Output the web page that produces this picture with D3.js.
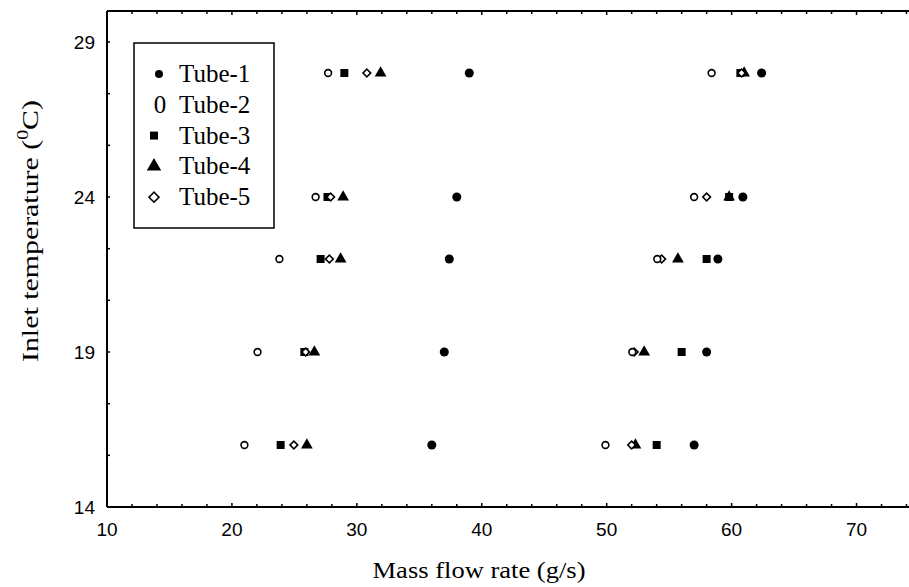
<!DOCTYPE html>
<html>
<head>
<meta charset="utf-8">
<script src="https://cdn.jsdelivr.net/npm/d3@7"></script>
<style>
  body { margin: 0; background: #fff; }
  .tick-label { font-family: "Liberation Sans", Arial, sans-serif; font-size: 19px; fill: #000; }
  .title { font-family: "Liberation Serif", "Times New Roman", serif; font-size: 24px; fill: #000; }
  .legend-text { font-family: "Liberation Serif", "Times New Roman", serif; font-size: 25px; fill: #000; }
</style>
</head>
<body>
<div id="chart"></div>
<script>
// inlet temperature levels (deg C)
const temps = [16, 19, 22, 24, 28];

// mass flow rates (g/s), low and high flow groups, one value per temperature
const tube1Low = [36.0, 37.0, 37.4, 38.0, 39.0];
const tube1High = [57.0, 58.0, 58.9, 60.9, 62.4];
const tube2Low = [21.0, 22.05, 23.8, 26.7, 27.7];
const tube2High = [49.9, 52.05, 54.05, 57.0, 58.4];
const tube3Low = [23.9, 25.8, 27.1, 27.65, 29.0];
const tube3High = [54.0, 56.0, 58.0, 59.8, 60.7];
const tube4Low = [26.0, 26.6, 28.7, 28.9, 31.9];
const tube4High = [52.3, 53.0, 55.7, 59.8, 61.0];
const tube5Low = [24.96, 25.9, 27.8, 27.9, 30.8];
const tube5High = [52.0, 52.2, 54.4, 58.0, 60.8];

const tubeNames = ["Tube-1", "Tube-2", "Tube-3", "Tube-4", "Tube-5"];
const xTicks = [10, 20, 30, 40, 50, 60, 70];
const yTicks = [14, 19, 24, 29];

const W = 909, H = 587;
const margin = {top: 11, right: 0, bottom: 80, left: 107};
const width = W - margin.left - margin.right;
const height = H - margin.top - margin.bottom;

const x = d3.scaleLinear().domain([10, 74.2]).range([0, width]);
const y = d3.scaleLinear().domain([14, 30]).range([height, 0]);

const svg = d3.select("#chart").append("svg")
    .attr("width", W)
    .attr("height", H);
const g = svg.append("g")
    .attr("transform", "translate(" + margin.left + "," + margin.top + ")");

// frame: left, bottom, top
g.append("line").attr("x1", 0).attr("x2", 0).attr("y1", 0).attr("y2", height)
    .attr("stroke", "#000").attr("stroke-width", 2);
g.append("line").attr("x1", 0).attr("x2", width).attr("y1", height).attr("y2", height)
    .attr("stroke", "#000").attr("stroke-width", 2);
g.append("line").attr("x1", 0).attr("x2", width).attr("y1", 0).attr("y2", 0)
    .attr("stroke", "#000").attr("stroke-width", 2);

// ticks pointing inward
const xMinor = d3.range(12, 75, 2);
g.selectAll(".xtick-b").data(xMinor).enter().append("line")
    .attr("x1", d => x(d)).attr("x2", d => x(d))
    .attr("y1", height).attr("y2", d => height - (d % 10 === 0 ? 4 : 3))
    .attr("stroke", "#000").attr("stroke-width", 1.5);
g.selectAll(".xtick-t").data(xMinor).enter().append("line")
    .attr("x1", d => x(d)).attr("x2", d => x(d))
    .attr("y1", 0).attr("y2", d => (d % 10 === 0 ? 4 : 3))
    .attr("stroke", "#000").attr("stroke-width", 1.5);
const yMinor = d3.range(1, 10).map(i => 14 + i * 5 / 3);
g.selectAll(".ytick").data(yMinor).enter().append("line")
    .attr("x1", 0).attr("x2", 3)
    .attr("y1", d => y(d)).attr("y2", d => y(d))
    .attr("stroke", "#000").attr("stroke-width", 1.5);

// tick labels
g.selectAll(".xlab").data(xTicks).enter().append("text")
    .attr("class", "tick-label")
    .attr("x", d => x(d)).attr("y", height + 29)
    .attr("text-anchor", "middle")
    .text(d => d);
g.selectAll(".ylab").data(yTicks).enter().append("text")
    .attr("class", "tick-label")
    .attr("x", -12).attr("y", d => y(d) + 7)
    .attr("text-anchor", "end")
    .text(d => d);

// axis titles
svg.append("text").attr("class", "title")
    .attr("x", 479).attr("y", 578)
    .attr("text-anchor", "middle")
    .attr("textLength", 213)
    .attr("lengthAdjust", "spacingAndGlyphs")
    .text("Mass flow rate (g/s)");
const yt = svg.append("text").attr("class", "title")
    .attr("transform", "translate(38,231) rotate(-90)")
    .attr("text-anchor", "middle")
    .attr("textLength", 262)
    .attr("lengthAdjust", "spacingAndGlyphs");
yt.append("tspan").text("Inlet temperature (");
yt.append("tspan").attr("font-size", 16).attr("dy", -10).text("0");
yt.append("tspan").attr("dy", 10).text("C)");

// marker styles
const sym = {
  circle: d3.symbol().type(d3.symbolCircle).size(64)(),
  open: d3.symbol().type(d3.symbolCircle).size(36)(),
  square: d3.symbol().type(d3.symbolSquare).size(64)(),
  triangle: d3.symbol().type(d3.symbolTriangle).size(60)(),
  diamond: d3.symbol().type(d3.symbolSquare).size(30)()
};
const styles = [
  {path: sym.circle, fill: "#000", stroke: "none", rot: 0},
  {path: sym.open, fill: "#fff", stroke: "#000", rot: 0},
  {path: sym.square, fill: "#000", stroke: "none", rot: 0},
  {path: sym.triangle, fill: "#000", stroke: "none", rot: 0},
  {path: sym.diamond, fill: "#fff", stroke: "#000", rot: 45}
];

const series = [
  tube1Low.concat(tube1High),
  tube2Low.concat(tube2High),
  tube3Low.concat(tube3High),
  tube4Low.concat(tube4High),
  tube5Low.concat(tube5High)
];
const tempsAll = temps.concat(temps);

// draw order so overlaps look like the original
const drawOrder = [3, 2, 4, 1, 0];
drawOrder.forEach(i => {
  const s = styles[i];
  g.append("g").selectAll("path")
    .data(series[i].map((v, j) => ({x: v, y: tempsAll[j]})))
    .enter().append("path")
    .attr("d", s.path)
    .attr("transform", d => "translate(" + x(d.x) + "," + y(d.y) + ") rotate(" + s.rot + ")")
    .attr("fill", s.fill)
    .attr("stroke", s.stroke)
    .attr("stroke-width", 1.6);
});

// legend
const lg = svg.append("g");
lg.append("rect")
    .attr("x", 134).attr("y", 43).attr("width", 140).attr("height", 185)
    .attr("fill", "#fff").attr("stroke", "#000").attr("stroke-width", 1.5);
tubeNames.forEach((name, i) => {
  const cy = 74 + i * 30.8;
  const sx = i === 0 ? 159 : 154;
  if (i === 1) {
    lg.append("text").attr("class", "legend-text")
      .attr("x", 160).attr("y", cy + 8).attr("text-anchor", "middle")
      .text("0");
  } else {
    const s = styles[i];
    lg.append("path")
      .attr("d", i === 0 ? d3.symbol().type(d3.symbolCircle).size(50)() :
                 i === 2 ? d3.symbol().type(d3.symbolSquare).size(64)() :
                 i === 3 ? d3.symbol().type(d3.symbolTriangle).size(90)() :
                 d3.symbol().type(d3.symbolSquare).size(50)())
      .attr("transform", "translate(" + sx + "," + cy + ") rotate(" + s.rot + ")")
      .attr("fill", s.fill).attr("stroke", s.stroke).attr("stroke-width", 1.6);
  }
  lg.append("text").attr("class", "legend-text")
    .attr("x", 179).attr("y", cy + 8)
    .text(name);
});
</script>
</body>
</html>
